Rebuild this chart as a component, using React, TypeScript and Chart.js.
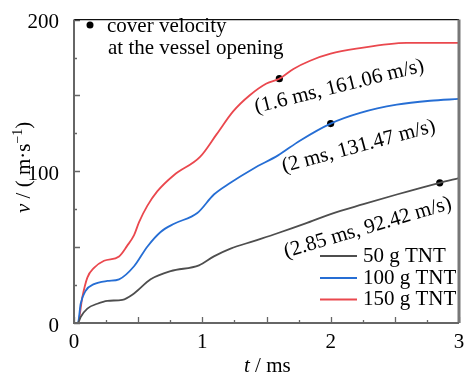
import { useEffect, useRef } from 'react';
import { Chart, registerables } from 'chart.js';

Chart.register(...registerables);

const FONT = "'Liberation Serif', 'Times New Roman', serif";

// 50 g TNT
const t50 = [0, 0.03, 0.052, 0.104, 0.182, 0.26, 0.377, 0.468, 0.597, 0.753, 0.974, 1.09, 1.22, 1.4, 1.58, 1.8, 2.0, 2.255, 2.515, 2.85, 3.0];
const v50 = [0, 0, 4, 9.5, 12.7, 14.6, 15.3, 19.5, 28.8, 34.2, 38, 43.9, 49, 54, 59, 65.5, 71.8, 78.3, 84.7, 92.42, 95.5];

// 100 g TNT
const t100 = [0, 0.03, 0.052, 0.091, 0.156, 0.26, 0.351, 0.468, 0.571, 0.675, 0.78, 0.961, 1.09, 1.216, 1.4, 1.59, 1.76, 2.0, 2.23, 2.515, 2.775, 3.0];
const v100 = [0, 0, 12.7, 21.3, 25.6, 27.7, 28.8, 37.4, 50.3, 60, 65.4, 72.5, 84.7, 92.3, 101.9, 110.5, 120.2, 131.47, 138.5, 143.9, 146.5, 147.7];

// 150 g TNT
const t150 = [0, 0.03, 0.065, 0.104, 0.156, 0.234, 0.351, 0.415, 0.468, 0.507, 0.571, 0.65, 0.78, 0.982, 1.112, 1.24, 1.372, 1.5, 1.6, 1.71, 1.84, 2.0, 2.2, 2.59, 3.0];
const v150 = [0, 0, 17, 29.9, 36.3, 41, 43.9, 51, 57.9, 66.5, 77.2, 86.9, 97.6, 109.5, 124.5, 139.5, 150.3, 157.9, 161.06, 167.5, 172.9, 177.5, 180.8, 184.7, 184.7];

// cover velocity at the vessel opening
const tDots = [1.6, 2, 2.85];
const vDots = [161.06, 131.47, 92.42];
const dotLabels = ['(1.6 ms, 161.06 m/s)', '(2 ms, 131.47 m/s)', '(2.85 ms, 92.42 m/s)'];

const seriesLabels = ['50 g TNT', '100 g TNT', '150 g TNT'];
const seriesColors = ['rgb(78,78,78)', 'rgb(38,110,212)', 'rgb(234,72,78)'];

const xTickLabels = [0, 1, 2, 3];
const yTickLabels = [0, 100, 200];

const toXY = (t: number[], v: number[]) => t.map((x, i) => ({ x, y: v[i] }));

const decorPlugin = {
  id: 'decor',
  afterDraw(chart: any) {
    const { ctx, chartArea: a, scales } = chart;
    const xs = scales.x;
    const ys = scales.y;
    ctx.save();
    // inward ticks
    ctx.strokeStyle = '#666';
    ctx.lineWidth = 1.3;
    ctx.beginPath();
    xs.ticks.forEach((tk: any) => {
      const px = Math.round(xs.getPixelForValue(tk.value)) + 0.5;
      const major = Math.abs(tk.value * 2 - Math.round(tk.value * 2)) < 1e-6;
      const len = major ? 6 : 3;
      ctx.moveTo(px, a.bottom);
      ctx.lineTo(px, a.bottom - len);
    });
    ys.ticks.forEach((tk: any) => {
      const py = Math.round(ys.getPixelForValue(tk.value)) + 0.5;
      const major = tk.value % 50 === 0;
      const len = major ? 6 : 3;
      ctx.moveTo(a.left, py);
      ctx.lineTo(a.left + len, py);
    });
    ctx.stroke();
    // frame
    ctx.strokeStyle = '#111';
    ctx.lineWidth = 1.3;
    ctx.beginPath();
    ctx.moveTo(a.left, a.top);
    ctx.lineTo(a.right, a.top);
    ctx.stroke();
    ctx.strokeStyle = '#777';
    ctx.lineWidth = 3;
    ctx.beginPath();
    ctx.moveTo(a.right, a.top);
    ctx.lineTo(a.right, a.bottom);
    ctx.stroke();
    ctx.strokeStyle = '#666';
    ctx.lineWidth = 2;
    ctx.beginPath();
    ctx.moveTo(a.left, a.top);
    ctx.lineTo(a.left, a.bottom);
    ctx.lineTo(a.right, a.bottom);
    ctx.stroke();

    ctx.fillStyle = '#000';
    // note text
    ctx.beginPath();
    ctx.arc(90, 25, 3.5, 0, Math.PI * 2);
    ctx.fill();
    ctx.font = `21px ${FONT}`;
    ctx.textBaseline = 'alphabetic';
    ctx.textAlign = 'left';
    ctx.fillText('cover velocity', 107, 31.5);
    ctx.fillText('at the vessel opening', 108, 54);

    // annotations near dots
    const offs = [
      [60, 8, -14],
      [28, 23, -15],
      [-72, 45, -16.5],
    ];
    tDots.forEach((t, i) => {
      const px = xs.getPixelForValue(t);
      const py = ys.getPixelForValue(vDots[i]);
      ctx.save();
      ctx.translate(px + offs[i][0], py + offs[i][1]);
      ctx.rotate((offs[i][2] * Math.PI) / 180);
      ctx.textAlign = 'center';
      ctx.textBaseline = 'middle';
      ctx.font = `21px ${FONT}`;
      ctx.fillText(dotLabels[i], 0, 0);
      ctx.restore();
    });

    // legend
    const legendY = [256, 278, 299.5];
    seriesLabels.forEach((lab, i) => {
      ctx.strokeStyle = seriesColors[i];
      ctx.lineWidth = 2;
      ctx.beginPath();
      ctx.moveTo(320, legendY[i]);
      ctx.lineTo(357, legendY[i]);
      ctx.stroke();
      ctx.textAlign = 'left';
      ctx.textBaseline = 'middle';
      ctx.font = `21px ${FONT}`;
      ctx.fillText(lab, 363, legendY[i]);
    });

    // x title
    ctx.textBaseline = 'alphabetic';
    ctx.textAlign = 'left';
    let x = 244;
    ctx.font = `italic 21px ${FONT}`;
    ctx.fillText('t', x, 372);
    x += ctx.measureText('t').width;
    ctx.font = `21px ${FONT}`;
    ctx.fillText(' / ms', x, 372);

    // y title
    ctx.save();
    ctx.translate(30, 213);
    ctx.rotate(-Math.PI / 2);
    let y0 = 0;
    ctx.font = `italic 21px ${FONT}`;
    ctx.fillText('v', y0, 0);
    y0 += ctx.measureText('v').width;
    ctx.font = `21px ${FONT}`;
    ctx.fillText(' / ( m·s', y0, 0);
    y0 += ctx.measureText(' / ( m·s').width;
    ctx.font = `14px ${FONT}`;
    ctx.fillText('−1', y0, -8);
    y0 += ctx.measureText('−1').width;
    ctx.font = `21px ${FONT}`;
    ctx.fillText(')', y0, 0);
    ctx.restore();

    ctx.restore();
  },
};

export default function App() {
  const ref = useRef<HTMLCanvasElement>(null);
  useEffect(() => {
    document.body.style.margin = '0';
    const lineDs = (i: number, t: number[], v: number[]) => ({
      label: seriesLabels[i],
      data: toXY(t, v),
      borderColor: seriesColors[i],
      backgroundColor: seriesColors[i],
      borderWidth: 1.8,
      pointRadius: 0,
      cubicInterpolationMode: 'monotone' as const,
      fill: false,
    });
    const chart = new Chart(ref.current!, {
      type: 'line',
      data: {
        datasets: [
          lineDs(0, t50, v50),
          lineDs(1, t100, v100),
          lineDs(2, t150, v150),
          {
            label: 'cover velocity',
            data: toXY(tDots, vDots),
            showLine: false,
            pointRadius: 3.6,
            pointBackgroundColor: '#000',
            pointBorderColor: '#000',
            pointBorderWidth: 0,
          } as any,
        ],
      },
      options: {
        responsive: false,
        animation: false,
        devicePixelRatio: 1,
        layout: { padding: { top: 13, right: 6, left: 0, bottom: 0 } },
        plugins: { legend: { display: false }, tooltip: { enabled: false } },
        scales: {
          x: {
            type: 'linear',
            min: 0,
            max: 3,
            grid: { display: false },
            border: { display: false },
            ticks: {
              stepSize: 0.25,
              autoSkip: false,
              maxRotation: 0,
              padding: -1,
              color: '#000',
              font: { family: FONT, size: 21 },
              callback: (v: any) => (xTickLabels.includes(Number(v)) ? String(v) : ''),
            },
            afterFit: (s: any) => {
              s.height = 51;
            },
          },
          y: {
            type: 'linear',
            min: 0,
            max: 200,
            grid: { display: false },
            border: { display: false },
            ticks: {
              stepSize: 25,
              autoSkip: false,
              padding: 7,
              labelOffset: 3,
              color: '#000',
              font: { family: FONT, size: 21 },
              callback: (v: any) => (yTickLabels.includes(Number(v)) ? String(v) : ''),
            },
            afterFit: (s: any) => {
              s.width = 74;
            },
          },
        },
      },
      plugins: [decorPlugin],
    });
    return () => chart.destroy();
  }, []);
  return (
    <div style={{ width: 465, height: 374 }}>
      <canvas ref={ref} width={465} height={374} style={{ display: 'block' }} />
    </div>
  );
}
